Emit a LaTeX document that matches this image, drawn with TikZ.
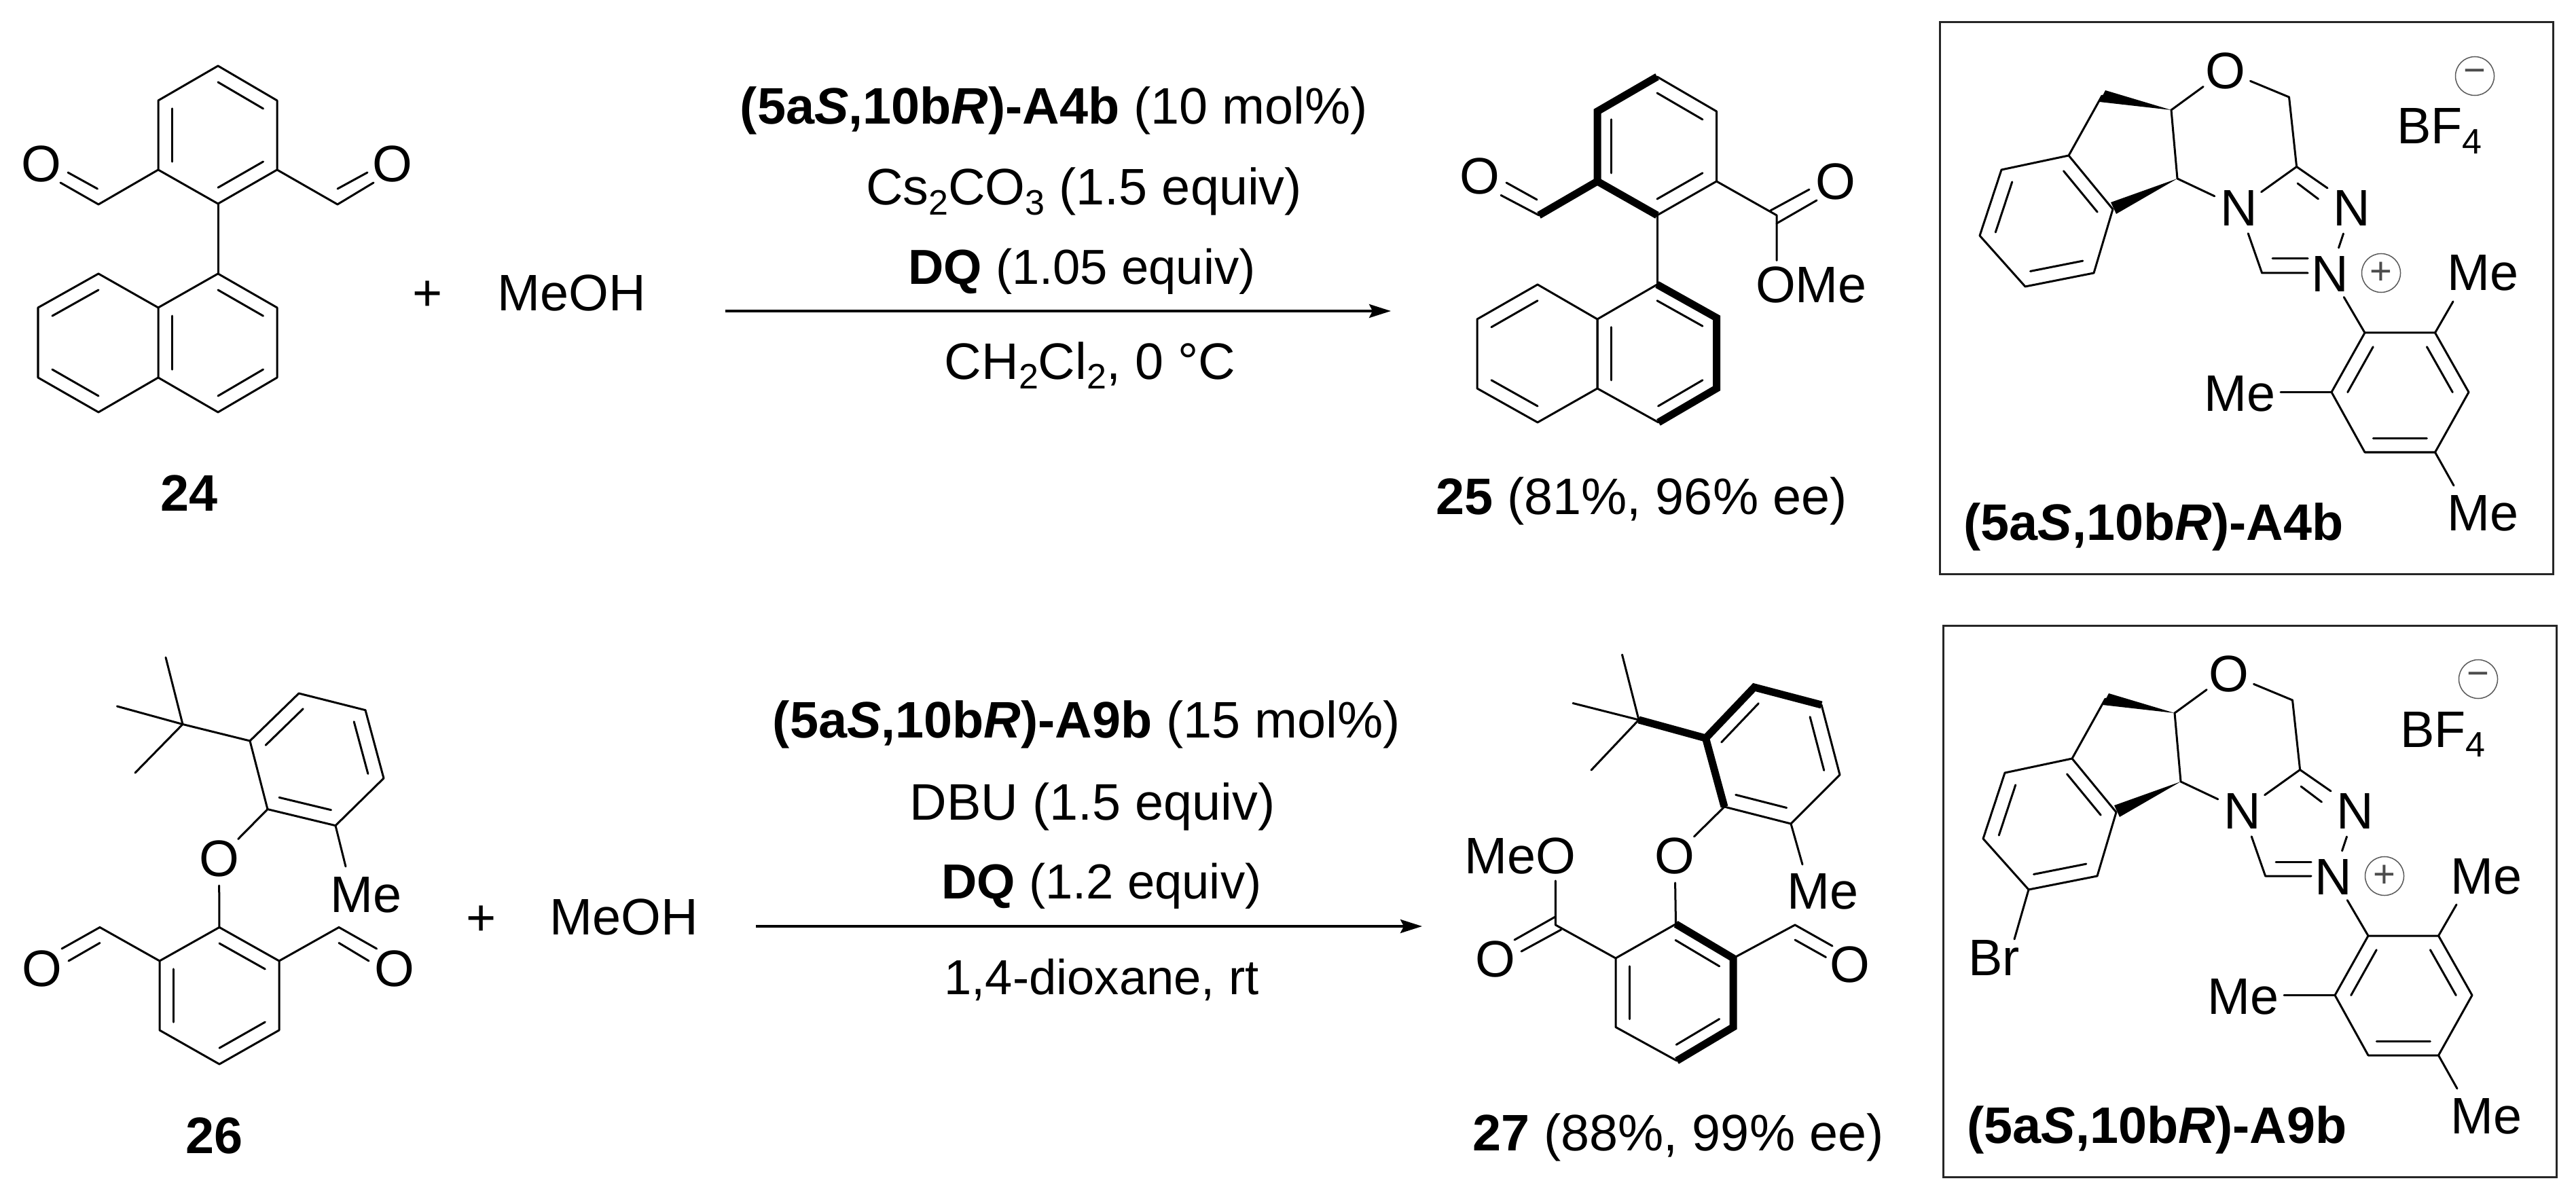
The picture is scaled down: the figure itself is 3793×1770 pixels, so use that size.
\documentclass[tikz,border=0pt]{standalone}
\usepackage{fontspec}
\setmainfont{Liberation Sans}
\usetikzlibrary{calc,arrows.meta}

\newcommand{\atoms}[1]{\foreach \n/\x/\y in {#1} {\coordinate (\n) at (\x,\y);}}
\newcommand{\ringdbl}[3]{\draw[bond] ($(#1)!.235!(#3)$) -- ($(#2)!.235!(#3)$);}
\newcommand{\subs}[1]{\raisebox{-4pt}{\fontsize{14.8}{14.8}\selectfont #1}}

% NHC precatalyst, shared by both boxes
\newcommand{\catalyst}{
    \draw[frame] (2856,33) rectangle (3759,845);
    \atoms{c5a/3197/162, w1/3100/133, w2/3091/150, ch/3095/141, c10b/3206/263, w3/3108/298, w4/3116/315,
        a1/3046/229, a2/3111/308, a3/3083/402, a4/2982/422, a5/2915/347, a6/2947/250, ac/3014/326,
        och/3370.5/143, tc/3381.6/245.5, ne/3427/277, tch/3330.6/402, npe/3398/402,
        ti1/3383/270, ti2/3413.5/293, ti3/3346/381, ti4/3398/381,
        m1/3482/490, m2/3585.5/490, m3/3635/577.5, m4/3585.5/666, m5/3482/666, m6/3433/577.5, mc/3534/578,
        me1/3612/444, me2/3358/577.5, me3/3613/715}
    \node[atom] (ox) at (3276.5,104) {O};
    \node[atom] (n1) at (3297,306) {N};
    \node[atom] (n2) at (3463,306) {N};
    \node[atom] (n3) at (3431,403) {N};
    \node[charge] (plus) at (3506,402) {+};
    \node[charge] (minus) at (3644,112) {\symbol{"2212}};
    \node[chem] (bf) at (3592,212) {BF\subs{4}};
    \node[chem] (met) at (3656,428) {Me};
    \node[chem] (mel) at (3298,605) {Me};
    \node[chem] (meb) at (3656,781) {Me};
    \draw[bond] (ch) -- (a1) -- (a2) -- (a3) -- (a4) -- (a5) -- (a6) -- (a1);
    \ringdbl{a1}{a2}{ac} \ringdbl{a3}{a4}{ac} \ringdbl{a5}{a6}{ac}
    \fill (c5a) -- (w1) -- (w2) -- cycle;
    \fill (c10b) -- (w3) -- (w4) -- cycle;
    \draw[bond] (c5a) -- (c10b);
    \draw[bond] (c5a) -- (ox);
    \draw[bond] (ox) -- (och) -- (tc);
    \draw[bond] (c10b) -- (n1);
    \draw[bond] (n1) -- (tc) -- (ne);
    \draw[bond] (ti1) -- (ti2);
    \draw[bond] (n2) -- (n3);
    \draw[bond] (n1) -- (tch) -- (npe);
    \draw[bond] (ti3) -- (ti4);
    \draw[bond] (n3) -- (m1);
    \draw[bond] (m1) -- (m2) -- (m3) -- (m4) -- (m5) -- (m6) -- cycle;
    \ringdbl{m1}{m6}{mc} \ringdbl{m2}{m3}{mc} \ringdbl{m4}{m5}{mc}
    \draw[bond] (m2) -- (me1);
    \draw[bond] (m6) -- (me2);
    \draw[bond] (m4) -- (me3);
}

\begin{document}
\begin{tikzpicture}[
    x=0.01cm, y=-0.01cm,
    chem/.style={anchor=base, inner sep=0pt, font=\fontsize{21.5}{25}\selectfont},
    chemn/.style={chem, font=\fontsize{20.6}{25}\selectfont},
    atom/.style={circle, inner sep=0pt, outer sep=0pt, minimum size=0.8cm, font=\fontsize{21.5}{25}\selectfont},
    bond/.style={line width=0.03cm, line cap=round, line join=round},
    boldbond/.style={line width=0.11cm, line join=miter},
    arrow/.style={-{Stealth[length=0.32cm, width=0.2cm, inset=0.05cm]}, line width=0.035cm},
    frame/.style={line width=0.03cm, draw=black!85},
    charge/.style={circle, draw=black!65, text=black!70, line width=0.015cm, inner sep=0pt, minimum size=0.57cm, font=\fontsize{16}{16}\selectfont}
]
    \useasboundingbox (0,0) rectangle (3793,1770);

    % Compound 24
    \atoms{b1/321/97, b2/408/148, b3/408/250, b4/321/300, b5/233/250, b6/233/148, bc/321/199,
        cl/145/301, cle/89/269, cli/143.5/278, clj/100/254,
        cr/497/301, cre/550/269, cri/497/278, crj/541/254,
        n1a/321/403, n2a/408/453, n3a/408/556, n4a/321/607, n5a/233/556, n6a/233/453,
        n7a/145/403, n8a/56/453, n9a/56/556, n10a/145/607, nra/321/505, nla/145/505}
    \node[atom] (ol24) at (60.6,241) {O};
    \node[atom] (or24) at (578,241) {O};
    \draw[bond] (b1) -- (b2) -- (b3) -- (b4) -- (b5) -- (b6) -- cycle;
    \ringdbl{b1}{b2}{bc} \ringdbl{b3}{b4}{bc} \ringdbl{b5}{b6}{bc}
    \draw[bond] (b5) -- (cl) -- (cle);
    \draw[bond] (cli) -- (clj);
    \draw[bond] (b3) -- (cr) -- (cre);
    \draw[bond] (cri) -- (crj);
    \draw[bond] (b4) -- (n1a);
    \draw[bond] (n1a) -- (n2a) -- (n3a) -- (n4a) -- (n5a) -- (n6a) -- cycle;
    \draw[bond] (n6a) -- (n7a) -- (n8a) -- (n9a) -- (n10a) -- (n5a);
    \ringdbl{n1a}{n2a}{nra} \ringdbl{n3a}{n4a}{nra} \ringdbl{n5a}{n6a}{nra}
    \ringdbl{n7a}{n8a}{nla} \ringdbl{n9a}{n10a}{nla}
    \node[chem] (l24) at (279,752) {\textbf{24}};
    \node[chem] (plus1) at (630,458) {+};
    \node[chem] (meoh1) at (841.5,458) {MeOH};

    % First reaction
    \coordinate (arr1s) at (1068,458);
    \coordinate (arr1e) at (2048,458);
    \draw[arrow] (arr1s) -- (arr1e);
    \node[chem] (r11) at (1552,183) {\textbf{(5a\textit{S},10b\textit{R})-A4b} (10 mol\%)};
    \node[chem] (r12) at (1596,302) {Cs\subs{2}CO\subs{3} (1.5 equiv)};
    \node[chemn] (r13) at (1593,419) {\textbf{DQ} (1.05 equiv)};
    \node[chem] (r14) at (1605,558) {CH\subs{2}Cl\subs{2}, 0 °C};

    % Compound 25
    \atoms{d1/2440/113, d2/2527.5/164, d3/2527.5/267, d4/2440/317, d5/2352/267, d6/2352/164, dc/2440/215,
        dcho/2266/317, dce/2210/287.5, dci/2263/294, dcj/2218/269,
        de/2616/317, dd1/2607/310, dd2/2664/279, dd3/2616/329, dd4/2675/295, deo/2616/383.5,
        e1/2440/419, e2/2527.5/468, e3/2527.5/572, e4/2442/622, e5/2352/572, e6/2352/470,
        e7/2264/419, e8/2175/470, e9/2175/572, e10/2264/622, erc/2440/520, elc/2264/520}
    \node[atom] (ol25) at (2179,259) {O};
    \node[atom] (oe25) at (2703,267) {O};
    \node[chem] (ome25) at (2667,446) {OMe};
    \draw[bond] (d1) -- (d2) -- (d3) -- (d4);
    \draw[boldbond] (d1) -- (d6) -- (d5) -- (d4);
    \draw[boldbond] (d5) -- (dcho);
    \ringdbl{d1}{d2}{dc} \ringdbl{d3}{d4}{dc} \ringdbl{d5}{d6}{dc}
    \draw[bond] (dcho) -- (dce);
    \draw[bond] (dci) -- (dcj);
    \draw[bond] (d3) -- (de) -- (deo);
    \draw[bond] (dd1) -- (dd2);
    \draw[bond] (dd3) -- (dd4);
    \draw[bond] (d4) -- (e1);
    \draw[boldbond] (e1) -- (e2) -- (e3) -- (e4);
    \draw[bond] (e4) -- (e5) -- (e6) -- (e1);
    \draw[bond] (e6) -- (e7) -- (e8) -- (e9) -- (e10) -- (e5) -- (e6);
    \ringdbl{e1}{e2}{erc} \ringdbl{e3}{e4}{erc} \ringdbl{e5}{e6}{erc}
    \ringdbl{e7}{e8}{elc} \ringdbl{e9}{e10}{elc}
    \node[chem] (l25) at (2417,757) {\textbf{25} (81\%, 96\% ee)};

    % Box with A4b
    \begin{scope}
        \catalyst
        \node[chem] (cat1) at (3171,795) {\textbf{(5a\textit{S},10b\textit{R})-A4b}};
    \end{scope}

    % Compound 26
    \atoms{f1/323/1365.5, f2/411/1415, f3/411/1517, f4/323/1567, f5/235/1517, f6/235/1415, fc/323/1466,
        fl/147/1365.5, fle/91/1397, fli/147/1388.5, flj/101/1415,
        fr/499/1365.5, fre/554.6/1397, fri/499/1388.5, frj/543/1415,
        u1/394/1191.6, u2/494/1215.7, u3/565/1146, u4/538/1045.7, u5/440/1021, u6/368/1091, uc/466.5/1118,
        tb/269/1066.5, t1/244/968, t2/172.4/1040, t3/199/1138, um/509/1276}
    \node[atom] (ol26) at (62,1426) {O};
    \node[atom] (or26) at (580.6,1426) {O};
    \node[atom] (oc26) at (322.5,1264) {O};
    \node[chem] (me26) at (539,1343.5) {Me};
    \draw[bond] (f1) -- (f2) -- (f3) -- (f4) -- (f5) -- (f6) -- cycle;
    \ringdbl{f1}{f2}{fc} \ringdbl{f3}{f4}{fc} \ringdbl{f5}{f6}{fc}
    \draw[bond] (f6) -- (fl) -- (fle);
    \draw[bond] (fli) -- (flj);
    \draw[bond] (f2) -- (fr) -- (fre);
    \draw[bond] (fri) -- (frj);
    \draw[bond] (f1) -- (oc26);
    \draw[bond] (oc26) -- (u1);
    \draw[bond] (u1) -- (u2) -- (u3) -- (u4) -- (u5) -- (u6) -- cycle;
    \ringdbl{u1}{u2}{uc} \ringdbl{u3}{u4}{uc} \ringdbl{u5}{u6}{uc}
    \draw[bond] (u6) -- (tb);
    \draw[bond] (tb) -- (t1);
    \draw[bond] (tb) -- (t2);
    \draw[bond] (tb) -- (t3);
    \draw[bond] (u2) -- (um);
    \node[chem] (l26) at (316,1698) {\textbf{26}};
    \node[chem] (plus2) at (709,1377) {+};
    \node[chem] (meoh2) at (919,1376) {MeOH};

    % Second reaction
    \coordinate (arr2s) at (1113,1364);
    \coordinate (arr2e) at (2094,1364);
    \draw[arrow] (arr2s) -- (arr2e);
    \node[chem] (r21) at (1600,1086) {\textbf{(5a\textit{S},10b\textit{R})-A9b} (15 mol\%)};
    \node[chem] (r22) at (1608.6,1207) {DBU (1.5 equiv)};
    \node[chemn] (r23) at (1622,1323) {\textbf{DQ} (1.2 equiv)};
    \node[chemn] (r24) at (1622,1464) {1,4-dioxane, rt};

    % Compound 27
    \atoms{g1/2467.5/1360.7, g2/2552/1411, g3/2552/1512.5, g4/2469/1562, g5/2379/1512.5, g6/2379/1411, gc/2465.5/1461.5,
        ge/2290.4/1362, gd1/2290/1350, gd2/2230/1384, gd3/2298.6/1369, gd4/2240/1401, geo/2290.4/1297,
        gr/2643/1362, gre/2698/1393, gri/2643/1384, grj/2688.5/1409.5,
        v1/2539/1188, v2/2637/1213, v3/2709/1141, v4/2682/1038, v5/2583/1012, v6/2511.5/1087, vc/2610/1113,
        tc27/2413/1060, s1/2388.5/964, s2/2316/1035.5, s3/2343/1134, vm/2654/1273}
    \node[atom] (oe27) at (2202,1412) {O};
    \node[atom] (or27) at (2724,1420) {O};
    \node[atom] (oc27) at (2466,1260) {O};
    \node[chem] (meo27) at (2238,1286) {MeO};
    \node[chem] (me27) at (2684,1338) {Me};
    \draw[bond] (g4) -- (g5) -- (g6) -- (g1);
    \draw[boldbond] (g1) -- (g2) -- (g3) -- (g4);
    \ringdbl{g1}{g2}{gc} \ringdbl{g3}{g4}{gc} \ringdbl{g5}{g6}{gc}
    \draw[bond] (g6) -- (ge) -- (geo);
    \draw[bond] (gd1) -- (gd2);
    \draw[bond] (gd3) -- (gd4);
    \draw[bond] (g2) -- (gr) -- (gre);
    \draw[bond] (gri) -- (grj);
    \draw[bond] (g1) -- (oc27);
    \draw[bond] (oc27) -- (v1);
    \draw[bond] (v1) -- (v2) -- (v3) -- (v4);
    \draw[boldbond] (tc27) -- (v6);
    \draw[boldbond] (v1) -- (v6) -- (v5) -- (v4);
    \ringdbl{v1}{v2}{vc} \ringdbl{v3}{v4}{vc} \ringdbl{v5}{v6}{vc}
    \draw[bond] (tc27) -- (s1);
    \draw[bond] (tc27) -- (s2);
    \draw[bond] (tc27) -- (s3);
    \draw[bond] (v2) -- (vm);
    \node[chem] (l27) at (2471,1694) {\textbf{27} (88\%, 99\% ee)};

    % Box with A9b
    \begin{scope}[shift={(5,888)}]
        \catalyst
        \coordinate (bre) at (2961,495);
        \node[chem] (brom) at (2931,548) {Br};
        \draw[bond] (a4) -- (bre);
        \node[chem] (cat2) at (3171,795) {\textbf{(5a\textit{S},10b\textit{R})-A9b}};
    \end{scope}
\end{tikzpicture}
\end{document}
